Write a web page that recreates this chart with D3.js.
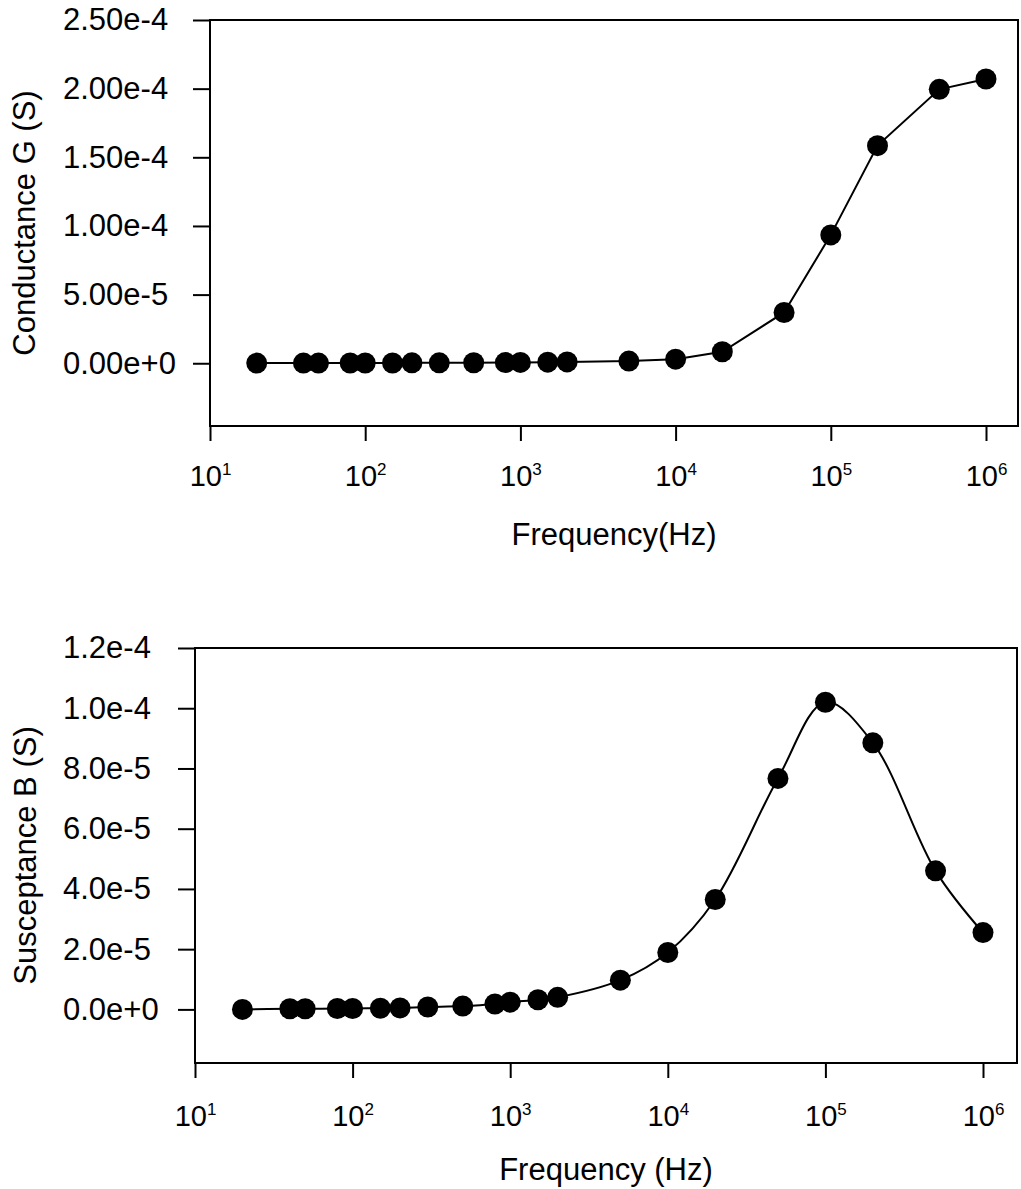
<!DOCTYPE html>
<html>
<head>
<meta charset="utf-8">
<script src="https://d3js.org/d3.v7.min.js"></script>
<style>
  body { margin: 0; background: #fff; }
  svg { display: block; font-family: "Liberation Sans", Arial, sans-serif; }
</style>
</head>
<body>
<svg></svg>
<script>

    var width = 1021;
    var height = 1189;

    // measured frequencies (Hz), shared by both panels
    var freq = [20, 40, 50, 80, 100, 150, 200, 300, 500, 800, 1000, 1500, 2000,
                5000, 1e4, 2e4, 5e4, 1e5, 2e5, 5e5, 1e6];

    // conductance G (S)
    var conductance = [1e-7, 1e-7, 1e-7, 2e-7, 2e-7, 2e-7, 3e-7, 3e-7, 4e-7, 5e-7, 6e-7, 8e-7, 1.0e-6,
                       1.6e-6, 3.0e-6, 8.4e-6, 3.7e-5, 9.35e-5, 1.585e-4, 1.995e-4, 2.07e-4];

    // susceptance B (S)
    var susceptance = [0, 2e-7, 2e-7, 3e-7, 3e-7, 4e-7, 5e-7, 8e-7, 1.1e-6, 1.8e-6, 2.4e-6, 3.2e-6, 4.0e-6,
                       9.7e-6, 1.89e-5, 3.65e-5, 7.67e-5, 1.02e-4, 8.85e-5, 4.6e-5, 2.55e-5];

    var xTicks = [10, 100, 1000, 1e4, 1e5, 1e6];
    var xTickExp = ["1", "2", "3", "4", "5", "6"];

    var gTicks = [0, 5e-5, 1e-4, 1.5e-4, 2e-4, 2.5e-4];
    var gTickLabels = ["0.00e+0", "5.00e-5", "1.00e-4", "1.50e-4", "2.00e-4", "2.50e-4"];

    var bTicks = [0, 2e-5, 4e-5, 6e-5, 8e-5, 1e-4, 1.2e-4];
    var bTickLabels = ["0.0e+0", "2.0e-5", "4.0e-5", "6.0e-5", "8.0e-5", "1.0e-4", "1.2e-4"];

    var svg = d3.select("svg")
        .attr("width", width)
        .attr("height", height)
        .attr("viewBox", [0, 0, width, height]);

    var fontSize = 31;
    var xTickFont = 29;

    function drawPanel(p) {
        var x = d3.scaleLog()
            .domain([10, p.xMax])
            .range([p.left, p.right]);

        var y = d3.scaleLinear()
            .domain(p.yDomain)
            .range([p.bottom, p.top]);

        var g = svg.append("g");

        // frame
        g.append("rect")
            .attr("x", p.left)
            .attr("y", p.top)
            .attr("width", p.right - p.left)
            .attr("height", p.bottom - p.top)
            .attr("fill", "none")
            .attr("stroke", "#000")
            .attr("stroke-width", 2);

        // x axis
        var xa = g.append("g")
            .attr("transform", `translate(0,${p.bottom})`)
            .call(d3.axisBottom(x).tickValues(xTicks).tickSize(15).tickSizeOuter(0).tickFormat(""));
        xa.select(".domain").remove();
        xa.selectAll(".tick line").attr("stroke-width", 2);
        xa.selectAll(".tick text").remove();
        xa.selectAll(".tick").each(function(d, i) {
            var t = d3.select(this).append("text")
                .attr("y", p.xLabelY - p.bottom)
                .attr("text-anchor", "middle")
                .attr("fill", "#000")
                .attr("font-size", xTickFont);
            t.append("tspan").text("10");
            t.append("tspan")
                .attr("font-size", 17)
                .attr("dy", -11)
                .text(xTickExp[i]);
        });

        // y axis
        var ya = g.append("g")
            .attr("transform", `translate(${p.left},0)`)
            .call(d3.axisLeft(y).tickValues(p.yTicks).tickSize(17).tickSizeOuter(0)
                .tickFormat((d, i) => p.yLabels[i]));
        ya.select(".domain").remove();
        ya.selectAll(".tick line").attr("stroke-width", 2);
        ya.selectAll(".tick text")
            .attr("x", 63 - p.left)
            .attr("text-anchor", "start")
            .attr("fill", "#000")
            .attr("font-size", fontSize);

        // axis titles
        g.append("text")
            .attr("x", (p.left + p.right) / 2)
            .attr("y", p.xTitleY)
            .attr("text-anchor", "middle")
            .attr("font-size", fontSize)
            .text(p.xTitle);

        g.append("text")
            .attr("transform", `translate(${p.yTitleX},${(p.top + p.bottom) / 2}) rotate(-90)`)
            .attr("text-anchor", "middle")
            .attr("font-size", fontSize)
            .text(p.yTitle);

        var pts = freq.map((f, i) => [x(f), y(p.values[i])]);

        g.append("path")
            .attr("d", d3.line().curve(p.curve)(pts))
            .attr("fill", "none")
            .attr("stroke", "#000")
            .attr("stroke-width", 2);

        g.selectAll("circle")
            .data(pts)
            .join("circle")
            .attr("cx", d => d[0])
            .attr("cy", d => d[1])
            .attr("r", 10.5)
            .attr("fill", "#000");
    }

    drawPanel({
        left: 210, right: 1018, top: 20, bottom: 426,
        xMax: Math.pow(10, 1 + 808 / 155.2),
        yDomain: [-4.57e-5, 2.5e-4],
        yTicks: gTicks, yLabels: gTickLabels,
        values: conductance,
        curve: d3.curveLinear,
        xLabelY: 486, xTitleY: 545, yTitleX: 35,
        xTitle: "Frequency(Hz)", yTitle: "Conductance G (S)"
    });

    drawPanel({
        left: 195, right: 1017, top: 648, bottom: 1063,
        xMax: Math.pow(10, 1 + 822 / 157.6),
        yDomain: [-1.78e-5, 1.2e-4],
        yTicks: bTicks, yLabels: bTickLabels,
        values: susceptance,
        curve: d3.curveCatmullRom.alpha(0.5),
        xLabelY: 1126, xTitleY: 1180, yTitleX: 36,
        xTitle: "Frequency (Hz)", yTitle: "Susceptance B (S)"
    });

</script>
</body>
</html>
